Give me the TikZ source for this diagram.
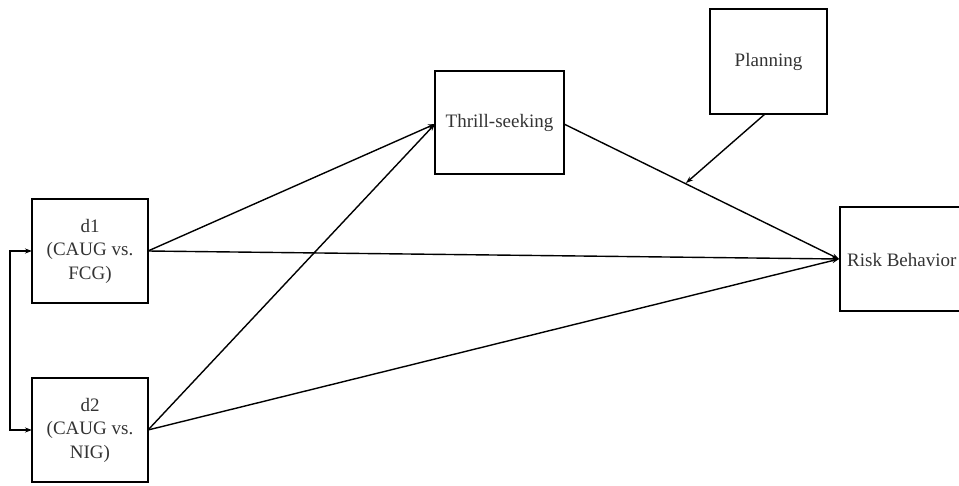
\documentclass[tikz,border=0pt]{standalone}
\usepackage{fontspec}
\setmainfont{Liberation Serif}
\usetikzlibrary{arrows.meta}
\begin{document}
\begin{tikzpicture}[x=1pt,y=-1pt,
  box/.style={draw,line width=2.2pt,inner sep=0pt,font=\fontsize{19}{23.5}\selectfont,align=center,text=black!80},
  link/.style={line width=1.4pt,-{Stealth[length=7pt,width=5pt]}},
  dlink/.style={line width=1.4pt,{Stealth[length=7pt,width=5pt]}-{Stealth[length=7pt,width=5pt]}}]
\useasboundingbox (0,0) rectangle (959,485);
\begin{scope}
\clip (0,0) rectangle (959,485);
\node[box,minimum width=116pt,minimum height=104pt] (d1) at (90,251) {d1\\(CAUG vs.\\FCG)};
\node[box,minimum width=116pt,minimum height=104pt] (d2) at (90,430) {d2\\(CAUG vs.\\NIG)};
\node[box,minimum width=129pt,minimum height=103pt] (th) at (499.5,122.5) {Thrill-seeking};
\node[box,minimum width=117pt,minimum height=105pt] (pl) at (768.5,61.5) {Planning};
\node[box,minimum width=130pt,minimum height=104pt,anchor=west] (rb) at (839,259) {};
\node[font=\fontsize{19}{23}\selectfont,text=black!80,anchor=west,inner sep=0pt] (rbt) at (847,260) {Risk Behavior};
\end{scope}
\coordinate (d1e) at (148,251);
\coordinate (d2e) at (148,430);
\coordinate (the) at (435,124);
\coordinate (thr) at (564,124);
\coordinate (rbe) at (839,259);
\coordinate (mod) at (686,183);
\coordinate (plb) at (765,114);
\coordinate (c1) at (10,251);
\coordinate (c2) at (10,430);
\draw[link] (d1e) -- (the);
\draw[link] (d2e) -- (the);
\draw[link] (d1e) -- (rbe);
\draw[link] (d2e) -- (rbe);
\draw[link] (thr) -- (rbe);
\draw[link] (plb) -- (mod);
\draw[dlink] (32,251) -- (c1) -- (c2) -- (32,430);
\end{tikzpicture}
\end{document}
